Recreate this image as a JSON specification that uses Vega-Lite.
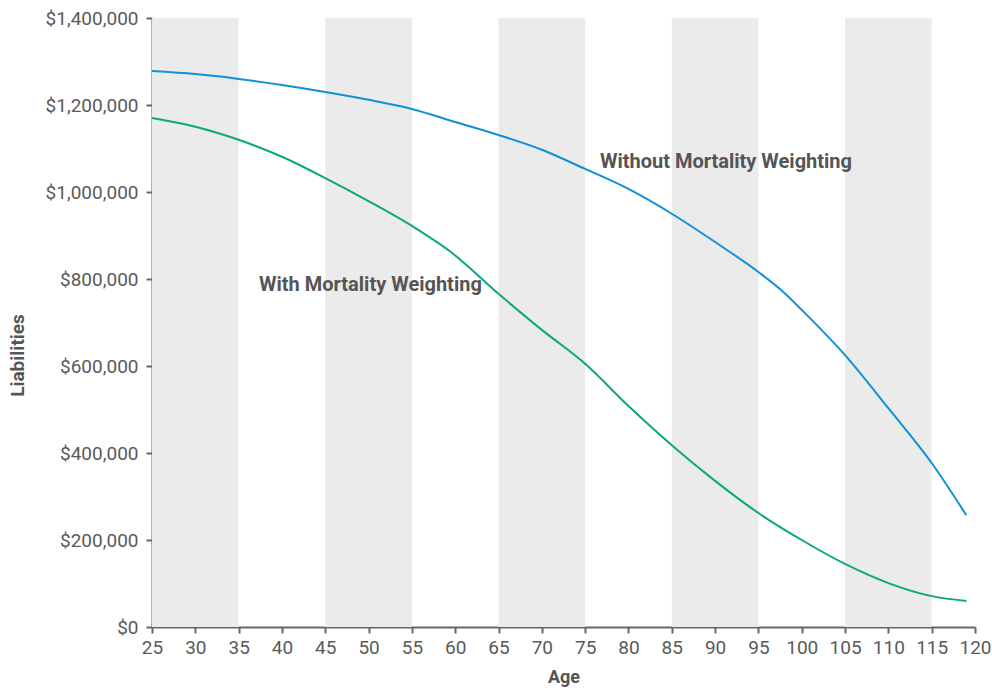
{
  "$schema": "https://vega.github.io/schema/vega-lite/v6.json",
  "width": 823,
  "height": 609,
  "autosize": {"type": "none"},
  "padding": {"left": 152, "top": 18, "right": 17, "bottom": 63},
  "background": "white",
  "config": {
    "view": {"stroke": null},
    "font": "Roboto",
    "axis": {
      "labelFont": "Roboto",
      "labelFontSize": 19,
      "labelColor": "#5a5a5a",
      "labelOverlap": false,
      "labelFlush": false,
      "titleFont": "Roboto",
      "titleFontSize": 18,
      "titleFontWeight": "bold",
      "titleColor": "#555555",
      "domainColor": "#666666",
      "domainWidth": 2,
      "tickColor": "#666666",
      "tickWidth": 2,
      "tickSize": 6,
      "grid": false
    }
  },
  "datasets": {
    "bands": [
      {"start": 25, "end": 35},
      {"start": 45, "end": 55},
      {"start": 65, "end": 75},
      {"start": 85, "end": 95},
      {"start": 105, "end": 115}
    ],
    "series": [
      {"age": 25, "value": 1278000, "series": "Without Mortality Weighting"},
      {"age": 30, "value": 1271000, "series": "Without Mortality Weighting"},
      {"age": 35, "value": 1260000, "series": "Without Mortality Weighting"},
      {"age": 40, "value": 1246000, "series": "Without Mortality Weighting"},
      {"age": 45, "value": 1230000, "series": "Without Mortality Weighting"},
      {"age": 50, "value": 1212000, "series": "Without Mortality Weighting"},
      {"age": 55, "value": 1191000, "series": "Without Mortality Weighting"},
      {"age": 60, "value": 1161000, "series": "Without Mortality Weighting"},
      {"age": 65, "value": 1131000, "series": "Without Mortality Weighting"},
      {"age": 70, "value": 1097000, "series": "Without Mortality Weighting"},
      {"age": 75, "value": 1053000, "series": "Without Mortality Weighting"},
      {"age": 80, "value": 1007000, "series": "Without Mortality Weighting"},
      {"age": 85, "value": 950000, "series": "Without Mortality Weighting"},
      {"age": 90, "value": 885000, "series": "Without Mortality Weighting"},
      {"age": 95, "value": 816000, "series": "Without Mortality Weighting"},
      {"age": 98, "value": 768000, "series": "Without Mortality Weighting"},
      {"age": 100, "value": 729000, "series": "Without Mortality Weighting"},
      {"age": 105, "value": 625000, "series": "Without Mortality Weighting"},
      {"age": 110, "value": 503000, "series": "Without Mortality Weighting"},
      {"age": 115, "value": 377000, "series": "Without Mortality Weighting"},
      {"age": 119, "value": 257000, "series": "Without Mortality Weighting"},
      {"age": 25, "value": 1170000, "series": "With Mortality Weighting"},
      {"age": 30, "value": 1150000, "series": "With Mortality Weighting"},
      {"age": 35, "value": 1120000, "series": "With Mortality Weighting"},
      {"age": 40, "value": 1081000, "series": "With Mortality Weighting"},
      {"age": 45, "value": 1032000, "series": "With Mortality Weighting"},
      {"age": 50, "value": 979000, "series": "With Mortality Weighting"},
      {"age": 55, "value": 922000, "series": "With Mortality Weighting"},
      {"age": 59.5, "value": 862000, "series": "With Mortality Weighting"},
      {"age": 65, "value": 766000, "series": "With Mortality Weighting"},
      {"age": 70, "value": 683000, "series": "With Mortality Weighting"},
      {"age": 75, "value": 605000, "series": "With Mortality Weighting"},
      {"age": 80, "value": 508000, "series": "With Mortality Weighting"},
      {"age": 85, "value": 418000, "series": "With Mortality Weighting"},
      {"age": 90, "value": 336000, "series": "With Mortality Weighting"},
      {"age": 95, "value": 262000, "series": "With Mortality Weighting"},
      {"age": 100, "value": 200000, "series": "With Mortality Weighting"},
      {"age": 105, "value": 145000, "series": "With Mortality Weighting"},
      {"age": 110, "value": 101000, "series": "With Mortality Weighting"},
      {"age": 115, "value": 71000, "series": "With Mortality Weighting"},
      {"age": 119, "value": 60000, "series": "With Mortality Weighting"}
    ],
    "labels": [
      {"age": 76.7, "value": 1069000, "label": "Without Mortality Weighting"},
      {"age": 37.35, "value": 786000, "label": "With Mortality Weighting"}
    ]
  },
  "layer": [
    {
      "data": {"name": "bands"},
      "mark": {"type": "rect", "color": "#ebebeb"},
      "encoding": {
        "x": {"field": "start", "type": "quantitative", "scale": {"domain": [25, 120], "nice": false, "zero": false}},
        "x2": {"field": "end"}
      }
    },
    {
      "data": {"name": "series"},
      "mark": {"type": "line", "interpolate": "monotone", "strokeWidth": 2},
      "encoding": {
        "x": {
          "field": "age", "type": "quantitative", "title": "Age",
          "scale": {"domain": [25, 120], "nice": false, "zero": false},
          "axis": {"values": [25,30,35,40,45,50,55,60,65,70,75,80,85,90,95,100,105,110,115,120], "labelPadding": 5, "titleY": 41, "titleBaseline": "top"}
        },
        "y": {
          "field": "value", "type": "quantitative", "title": "Liabilities",
          "scale": {"domain": [0, 1400000], "nice": false},
          "axis": {"values": [0,200000,400000,600000,800000,1000000,1200000,1400000], "format": "$,.0f", "labelPadding": 8, "titleX": -135, "titleY": 337, "titleBaseline": "middle", "titleFontSize": 19}
        },
        "color": {
          "field": "series", "type": "nominal", "legend": null,
          "scale": {"domain": ["Without Mortality Weighting", "With Mortality Weighting"], "range": ["#1190d8", "#0aa97c"]}
        }
      }
    },
    {
      "data": {"name": "labels"},
      "mark": {"type": "text", "align": "left", "baseline": "middle", "fontSize": 20, "fontWeight": "bold", "color": "#555555", "font": "Roboto"},
      "encoding": {
        "x": {"field": "age", "type": "quantitative"},
        "y": {"field": "value", "type": "quantitative"},
        "text": {"field": "label"}
      }
    }
  ]
}
